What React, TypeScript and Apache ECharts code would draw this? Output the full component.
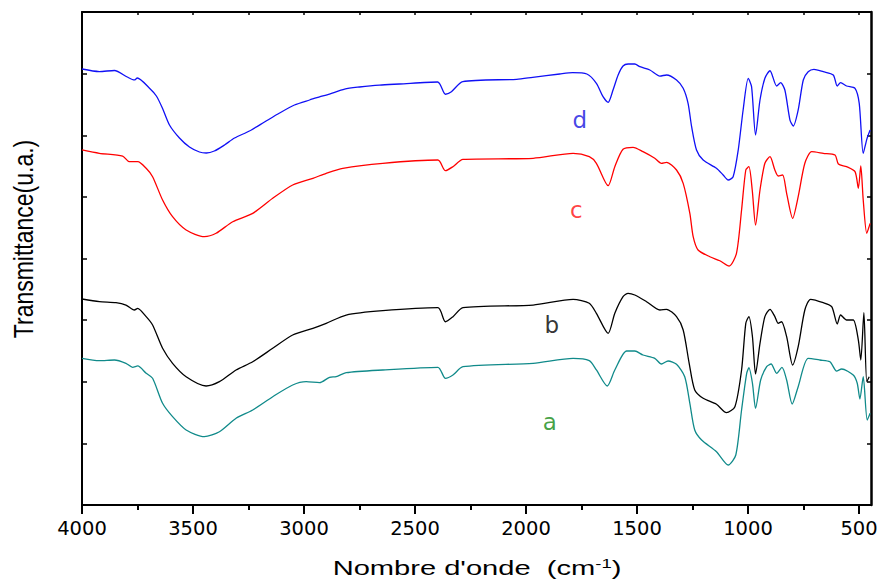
import React, { useEffect, useRef } from 'react';
import * as echarts from 'echarts';

// FTIR spectra: [wavenumber (cm-1), transmittance (a.u.)], from 4000 down to 450
const spectrumD: [number, number][] = [
  [4000, 7.075], [3922, 7.034], [3854, 7.051], [3796, 6.945], [3764, 6.897], [3751, 6.929],
  [3697, 6.767], [3665, 6.637], [3638, 6.442], [3606, 6.166], [3561, 5.955], [3516, 5.809],
  [3471, 5.728], [3440, 5.712], [3404, 5.744], [3358, 5.842], [3313, 5.955], [3246, 6.069],
  [3178, 6.215], [3110, 6.361], [3043, 6.491], [2975, 6.572], [2930, 6.621], [2885, 6.669],
  [2817, 6.750], [2750, 6.783], [2660, 6.815], [2570, 6.832], [2398, 6.864], [2363, 6.665],
  [2336, 6.707], [2285, 6.869], [2042, 6.908], [1970, 6.940], [1848, 6.994], [1790, 7.015],
  [1726, 6.994], [1683, 6.843], [1653, 6.626], [1630, 6.535], [1608, 6.734], [1585, 6.978],
  [1563, 7.124], [1540, 7.156], [1510, 7.156], [1487, 7.112], [1442, 7.059], [1397, 6.961],
  [1367, 6.978], [1322, 6.897], [1292, 6.762], [1270, 6.518], [1254, 6.139], [1232, 5.761],
  [1202, 5.598], [1142, 5.464], [1112, 5.355], [1089, 5.274], [1067, 5.327], [1044, 5.761],
  [1022, 6.410], [999, 6.924], [984, 6.788], [966, 6.004], [946, 6.572], [924, 6.924],
  [901, 7.047], [871, 6.799], [853, 6.853], [834, 6.734], [811, 6.247], [796, 6.150],
  [774, 6.410], [751, 6.897], [729, 7.031], [703, 7.070], [661, 7.031], [616, 6.978],
  [598, 6.799], [583, 6.853], [556, 6.799], [518, 6.762], [499, 6.518], [481, 5.707],
  [465, 5.934], [450, 6.085],
];

const spectrumC: [number, number][] = [
  [4000, 5.761], [3922, 5.707], [3817, 5.663], [3787, 5.571], [3749, 5.571], [3711, 5.464],
  [3682, 5.327], [3637, 4.949], [3592, 4.678], [3531, 4.462], [3449, 4.354], [3396, 4.409],
  [3321, 4.597], [3231, 4.733], [3141, 4.977], [3051, 5.193], [2960, 5.301], [2900, 5.383],
  [2825, 5.464], [2645, 5.545], [2397, 5.598], [2363, 5.425], [2329, 5.490], [2284, 5.610],
  [1968, 5.626], [1788, 5.707], [1715, 5.652], [1683, 5.545], [1630, 5.181], [1600, 5.490],
  [1563, 5.772], [1518, 5.804], [1473, 5.733], [1420, 5.626], [1390, 5.545], [1367, 5.561],
  [1322, 5.436], [1292, 5.220], [1262, 4.733], [1247, 4.354], [1225, 4.138], [1172, 4.029],
  [1127, 3.964], [1085, 3.878], [1052, 4.084], [1029, 4.787], [1010, 5.436], [996, 5.490],
  [981, 5.112], [966, 4.544], [946, 5.112], [924, 5.545], [901, 5.652], [879, 5.436],
  [864, 5.339], [844, 5.355], [826, 5.058], [799, 4.652], [774, 5.003], [744, 5.545],
  [713, 5.733], [661, 5.707], [608, 5.679], [593, 5.533], [556, 5.490], [518, 5.409],
  [503, 5.139], [492, 5.501], [481, 4.949], [465, 4.409], [450, 4.571],
];

const spectrumB: [number, number][] = [
  [4000, 3.343], [3922, 3.299], [3847, 3.283], [3802, 3.245], [3764, 3.164], [3749, 3.192],
  [3711, 3.056], [3682, 2.921], [3637, 2.543], [3592, 2.299], [3531, 2.082], [3441, 1.931],
  [3381, 2.001], [3306, 2.191], [3231, 2.325], [3141, 2.543], [3051, 2.759], [2960, 2.867],
  [2900, 2.948], [2810, 3.083], [2645, 3.153], [2397, 3.202], [2363, 2.974], [2329, 3.056],
  [2284, 3.202], [1968, 3.245], [1788, 3.338], [1715, 3.273], [1683, 3.111], [1630, 2.786],
  [1600, 3.111], [1563, 3.380], [1540, 3.435], [1510, 3.408], [1457, 3.299], [1397, 3.164],
  [1367, 3.176], [1322, 3.056], [1292, 2.840], [1265, 2.299], [1240, 1.866], [1202, 1.731],
  [1142, 1.634], [1097, 1.498], [1059, 1.595], [1029, 2.191], [1010, 2.948], [996, 3.056],
  [980, 2.731], [966, 2.126], [946, 2.624], [924, 3.056], [901, 3.176], [879, 3.056],
  [864, 2.948], [849, 2.974], [826, 2.731], [799, 2.272], [774, 2.569], [744, 3.164],
  [718, 3.338], [661, 3.283], [623, 3.218], [598, 2.937], [583, 3.083], [556, 3.002],
  [526, 3.002], [503, 2.677], [492, 2.353], [478, 3.120], [465, 2.001], [454, 2.082],
];

const spectrumA: [number, number][] = [
  [4000, 2.380], [3922, 2.342], [3854, 2.353], [3802, 2.299], [3772, 2.234], [3749, 2.256],
  [3711, 2.137], [3682, 2.056], [3637, 1.650], [3592, 1.433], [3531, 1.217], [3449, 1.108],
  [3381, 1.189], [3306, 1.407], [3231, 1.542], [3141, 1.757], [3051, 1.947], [2990, 2.001],
  [2930, 1.985], [2885, 2.072], [2855, 2.082], [2810, 2.147], [2645, 2.191], [2397, 2.234],
  [2363, 2.056], [2329, 2.110], [2284, 2.244], [1968, 2.299], [1788, 2.380], [1715, 2.342],
  [1683, 2.191], [1634, 1.931], [1600, 2.191], [1547, 2.499], [1510, 2.499], [1473, 2.434],
  [1420, 2.380], [1390, 2.288], [1360, 2.337], [1322, 2.283], [1285, 2.082], [1262, 1.650],
  [1240, 1.217], [1209, 1.055], [1142, 0.865], [1089, 0.649], [1055, 0.811], [1029, 1.542],
  [1006, 2.137], [996, 2.228], [980, 1.975], [966, 1.569], [943, 2.028], [916, 2.244],
  [896, 2.288], [871, 2.137], [847, 2.234], [826, 2.028], [801, 1.639], [774, 1.920],
  [729, 2.380], [676, 2.353], [631, 2.325], [601, 2.174], [578, 2.207], [526, 2.110],
  [508, 1.975], [496, 1.720], [481, 2.082], [463, 1.379], [450, 1.488],
];

// Curve letters placed beside each spectrum: [wavenumber, transmittance, text]
const curveTags: [number, number, string][] = [
  [1758, 6.25, 'd'],
  [1773, 4.78, 'c'],
  [1884, 2.92, 'b'],
  [1893, 1.35, 'a'],
];

const majorTicks = [500, 1000, 1500, 2000, 2500, 3000, 3500, 4000];
const minorTicks = [750, 1250, 1750, 2250, 2750, 3250, 3750];
const topTicks = [500, 750, 1000, 1250, 1500, 1750, 2000, 2250, 2500, 2750, 3000, 3250, 3500, 3750];

const X_MIN = 446;
const X_MAX = 4000;

const colors = { d: '#1010f5', c: '#ff0000', b: '#000000', a: '#108a8a' };
const tagColors: Record<string, string> = { d: '#1515e0', c: '#ff1010', b: '#000000', a: '#138a13' };

export default function App() {
  const ref = useRef<HTMLDivElement>(null);

  useEffect(() => {
    if (!ref.current) return;
    const chart = echarts.init(ref.current, null, { renderer: 'svg' });

    const lineSeries = (name: string, data: [number, number][], color: string) => ({
      name,
      type: 'line',
      data,
      xAxisIndex: 0,
      yAxisIndex: 0,
      showSymbol: false,
      symbol: 'none',
      smooth: 0.25,
      silent: true,
      lineStyle: { color, width: 1.3 },
      z: 3,
    });

    const baseX = {
      type: 'value',
      min: X_MIN,
      max: X_MAX,
      inverse: true,
      gridIndex: 0,
      splitLine: { show: false },
    };

    chart.setOption({
      animation: false,
      backgroundColor: '#ffffff',
      grid: { left: 82, right: 9, top: 12, bottom: 77, containLabel: false, outerBoundsMode: 'none' },
      xAxis: [
        {
          ...baseX,
          position: 'bottom',
          axisLine: { show: true, onZero: false, lineStyle: { color: '#000', width: 2 } },
          axisTick: { show: true, inside: false, length: 9, customValues: majorTicks, lineStyle: { color: '#000', width: 2 } },
          axisLabel: {
            show: true,
            customValues: majorTicks,
            margin: 13,
            color: '#000',
            fontFamily: 'DejaVu Sans',
            fontSize: 19.5,
            formatter: (v: number) => String(v),
          },
        },
        {
          ...baseX,
          position: 'bottom',
          axisLine: { show: false },
          axisTick: { show: true, inside: false, length: 5, customValues: minorTicks, lineStyle: { color: '#000', width: 2 } },
          axisLabel: { show: false },
        },
        {
          ...baseX,
          position: 'top',
          axisLine: { show: true, onZero: false, lineStyle: { color: '#000', width: 2 } },
          axisTick: { show: true, inside: true, length: 3, customValues: topTicks, lineStyle: { color: '#000', width: 1.5 } },
          axisLabel: { show: false },
        },
      ],
      yAxis: [
        {
          type: 'value',
          position: 'left',
          min: 0,
          max: 8,
          interval: 1,
          axisLine: { show: true, onZero: false, lineStyle: { color: '#000', width: 2 } },
          axisTick: { show: true, inside: true, length: 5, lineStyle: { color: '#000', width: 1.5 } },
          axisLabel: { show: false },
          splitLine: { show: false },
        },
        {
          type: 'value',
          position: 'right',
          min: 0,
          max: 8,
          interval: 1,
          axisLine: { show: true, onZero: false, lineStyle: { color: '#000', width: 2.5 } },
          axisTick: { show: true, inside: true, length: 4, lineStyle: { color: '#000', width: 1.5 } },
          axisLabel: { show: false },
          splitLine: { show: false },
        },
      ],
      series: [
        lineSeries('a', spectrumA, colors.a),
        lineSeries('b', spectrumB, colors.b),
        lineSeries('c', spectrumC, colors.c),
        lineSeries('d', spectrumD, colors.d),
        {
          type: 'scatter',
          data: curveTags.map((t) => ({ value: t, label: { color: tagColors[t[2]] } })),
          symbolSize: 0,
          silent: true,
          label: {
            show: true,
            position: 'inside',
            fontFamily: 'DejaVu Sans',
            fontSize: 23,
            formatter: (p: any) => p.value[2],
          },
          encode: { x: 0, y: 1 },
          z: 5,
        },
      ],
      graphic: [
        {
          type: 'text',
          x: 23,
          y: 239,
          rotation: Math.PI / 2,
          scaleY: 1.23,
          silent: true,
          style: {
            text: 'Transmittance(u.a.)',
            fontFamily: 'Liberation Sans',
            fontSize: 23,
            fill: '#000',
            textAlign: 'center',
            textVerticalAlign: 'middle',
          },
        },
        {
          type: 'text',
          x: 477,
          y: 568,
          scaleX: 1.42,
          silent: true,
          style: {
            text: "{n|Nombre d'onde  (cm}{s|-1}{n|)}",
            fill: '#000',
            textAlign: 'center',
            textVerticalAlign: 'middle',
            rich: {
              n: { fontFamily: 'Liberation Sans', fontSize: 20.5, fill: '#000' },
              s: { fontFamily: 'Liberation Sans', fontSize: 13, fill: '#000', verticalAlign: 'top' },
            },
          },
        },
      ],
    });

    return () => chart.dispose();
  }, []);

  return (
    <div
      ref={ref}
      style={{ position: 'fixed', left: 0, top: 0, width: 880, height: 582, background: '#fff' }}
    />
  );
}
